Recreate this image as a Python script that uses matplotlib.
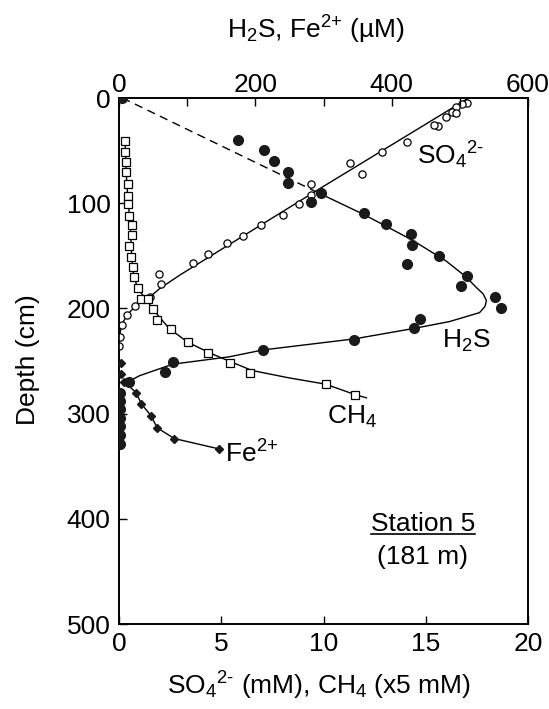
import matplotlib
matplotlib.use("Agg")
import matplotlib.pyplot as plt
from matplotlib.lines import Line2D

plt.rcParams['font.family'] = ['Liberation Sans', 'DejaVu Sans']
plt.rcParams['mathtext.fontset'] = 'custom'
plt.rcParams['mathtext.rm'] = 'Liberation Sans'
plt.rcParams['mathtext.it'] = 'Liberation Sans'

# ---- data ----
so4_conc = [17.0, 16.75, 16.5, 16.3, 16.5, 16.0, 15.6, 15.4, 14.07, 12.85, 11.3, 11.87,
            9.37, 9.37, 8.79, 8.0, 6.93, 6.08, 5.27, 4.37, 3.63, 1.98, 2.06, 1.52,
            0.78, 0.38, 0.13, 0.05, 0.0]
so4_depth = [4.5, 5.7, 8.9, 13, 14.6, 17.7, 27, 25.7, 41.5, 51.6, 61.5, 72,
             81.7, 92, 100.8, 111, 120.7, 131, 138, 148, 156.5, 167, 176.6, 189,
             198, 206, 216, 227, 236]
so4_fit_conc = [17.1, 10.0, 5.0, 3.0, 2.0, 1.45, 0.85, 0.4, 0.15, 0.03, 0.0]
so4_fit_depth = [0, 84, 144, 168, 181, 190, 197, 206, 215, 225, 235]

ch4_conc = [0.3, 0.3, 0.35, 0.35, 0.43, 0.43, 0.43, 0.51, 0.63, 0.63, 0.51, 0.6, 0.67,
            0.71, 0.92, 1.1, 1.44, 1.65, 1.87, 2.55, 3.36, 4.34, 5.45, 6.42, 10.1, 11.55]
ch4_depth = [40.4, 51.5, 61, 70.5, 81.5, 92.7, 100.6, 111.7, 121, 130.7, 141, 151, 161,
             170, 181, 191, 191, 201, 211.5, 220, 232, 242, 251.7, 261.6, 271.7, 282]
ch4_fit_conc = [0.3, 0.35, 0.43, 0.55, 0.62, 0.72, 0.95, 1.35, 1.75, 2.45, 3.35, 4.4,
                5.5, 6.5, 8.3, 10.1, 11.55, 12.1]
ch4_fit_depth = [40, 70, 95, 120, 150, 170, 182, 192, 203, 219, 232, 242,
                 251, 259, 266, 272, 282, 285]

h2s_conc = [5, 174, 212, 227, 248, 248, 297, 281, 359, 392, 428, 430, 470, 423, 510,
            502, 552, 560, 441, 433, 345, 211, 79, 68, 15, 2, 2, 2, 2, 2, 2, 2]
h2s_depth = [0, 40, 49, 60, 70, 80.5, 90.6, 98.5, 109, 120, 129.6, 139.7, 150, 158, 169,
             179, 189.5, 200, 210, 219, 230, 239.5, 251, 260.6, 270, 280, 288, 296,
             304, 312, 320, 329]
h2s_dash_conc = [5, 292]
h2s_dash_depth = [0, 90]
h2s_fit_conc = [292, 360, 430, 480, 509, 524, 534, 539, 537, 529, 485, 433, 345, 211,
                162, 79, 30, 10]
h2s_fit_depth = [90, 111, 135, 155, 170, 180, 186, 192.5, 198, 204, 212.5, 219, 229,
                 239.5, 246, 253, 264, 271]

fe_conc = [3, 3, 8, 25, 33, 47, 56, 81, 147]
fe_depth = [252, 262, 270, 280, 291, 302, 313.5, 323.7, 333.6]

W, H = 549, 709
fig = plt.figure(figsize=(W / 100, H / 100), dpi=100)
ax = fig.add_axes([119 / W, 1 - 624 / H, 409 / W, 526 / H])
ax.set_xlim(0, 20)
ax.set_ylim(500, 0)
ax2 = ax.twiny()
ax2.set_xlim(0, 600)
ax2.set_ylim(500, 0)

fs = 19
lw = 1.0
# SO4
ax.plot(so4_fit_conc, so4_fit_depth, '-', color='black', lw=lw, zorder=2)
ax.plot(so4_conc, so4_depth, 'o', ms=5.2, mfc='white', mec='black', mew=0.9, zorder=4)
# CH4
ax.plot(ch4_fit_conc, ch4_fit_depth, '-', color='black', lw=lw, zorder=2)
ax.plot(ch4_conc, ch4_depth, 's', ms=5.2, mfc='white', mec='black', mew=0.9, zorder=4)
# H2S
ax2.plot(h2s_dash_conc, h2s_dash_depth, '--', color='black', lw=lw, dashes=(6, 4), zorder=2)
ax2.plot(h2s_fit_conc, h2s_fit_depth, '-', color='black', lw=lw, zorder=2)
ax2.plot(h2s_conc, h2s_depth, 'o', ms=7, mfc='#1a1a1a', mec='#1a1a1a', zorder=5)
# Fe2+
ax2.plot(fe_conc[2:], fe_depth[2:], '-', color='black', lw=lw, zorder=2)
ax2.plot(fe_conc, fe_depth, 'D', ms=4.3, mfc='#1a1a1a', mec='#1a1a1a', zorder=5)

# ticks
ax.set_xticks([0, 5, 10, 15, 20])
ax.set_yticks([0, 100, 200, 300, 400, 500])
ax.tick_params(axis='x', direction='in', length=6, width=1, labelsize=fs, pad=6,
               top=False)
ax.tick_params(axis='y', direction='in', length=6, width=1, labelsize=fs, pad=6,
               right=False)
ax2.set_xticks([0, 200, 400, 600])
ax2.set_xticks([100, 300, 500], minor=True)
ax2.tick_params(axis='x', which='both', direction='in', length=6, width=1,
                labelsize=fs, pad=1)
for a in (ax, ax2):
    for s in a.spines.values():
        s.set_linewidth(1.2)

so4_lbl = r'$\mathregular{SO_4{}^{2\text{-}}}$'
fe_lbl = r'$\mathregular{Fe^{\text{2+}}}$'
# labels in plot
ax.text(14.55, 54.7, so4_lbl, fontsize=fs, ha='left', va='center')
ax.text(15.8, 230.5, r'$\mathregular{H_2S}$', fontsize=fs, ha='left', va='center')
ax.text(10.15, 303.6, r'$\mathregular{CH_4}$', fontsize=fs, ha='left', va='center')
ax.text(5.16, 338, fe_lbl, fontsize=fs, ha='left', va='center')
st = ax.text(14.85, 404.5, 'Station 5', fontsize=fs, ha='center', va='center')
ax.text(14.85, 436, '(181 m)', fontsize=fs, ha='center', va='center')

fig.text(28 / W, 1 - 360 / H, 'Depth (cm)', fontsize=fs, rotation=90,
         ha='center', va='center')
fig.text(316 / W, 1 - 30 / H, r'$\mathregular{H_2S}$, ' + fe_lbl + ' (µM)',
         fontsize=fs, ha='center', va='center')
fig.text(319 / W, 1 - 686 / H,
         so4_lbl + r' (mM), $\mathregular{CH_4}$ (x5 mM)',
         fontsize=fs, ha='center', va='center')

# underline for station label
fig.canvas.draw()
bb = st.get_window_extent(renderer=fig.canvas.get_renderer())
inv = fig.transFigure.inverted()
(x0, y0), (x1, y1) = inv.transform([(bb.x0, bb.y0 + 2), (bb.x1, bb.y0 + 2)])
fig.add_artist(Line2D([x0, x1], [y0, y1], color='black', lw=1.2,
                      transform=fig.transFigure))

fig.savefig('out.png', dpi=100)
